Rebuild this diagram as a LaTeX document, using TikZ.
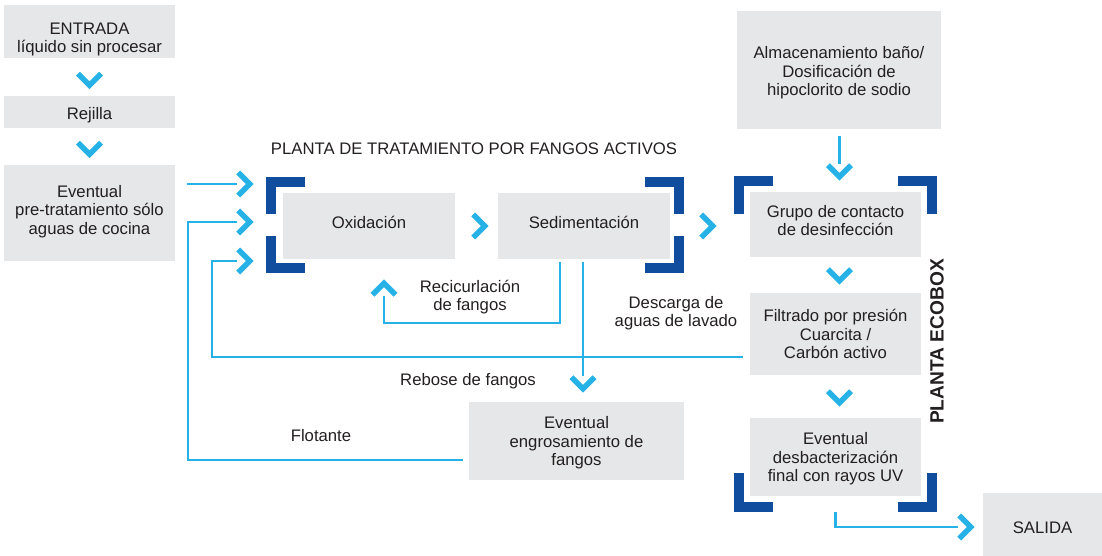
\documentclass[tikz,border=0pt]{standalone}
\usepackage{fontspec}
\setmainfont{Liberation Sans}
\definecolor{cyanline}{RGB}{38,178,231}
\definecolor{darkbar}{RGB}{16,77,158}
\definecolor{boxgray}{RGB}{230,231,232}
\definecolor{ink}{RGB}{35,31,32}
\tikzset{
  box/.style={fill=boxgray,inner sep=0pt},
  lbl/.style={text=ink,align=center,inner sep=0pt,font=\fontsize{16.7}{18.5}\selectfont},
  flow/.style={draw=cyanline,line width=2.8pt},
  chev/.style={draw=cyanline,line width=5.5pt},
  bar/.style={draw=darkbar,line width=10pt},
  chevd/.pic={\draw[chev] (-11.5,-6.8) -- (0,4.7) -- (11.5,-6.8);},
  chevr/.pic={\draw[chev] (-6.8,-11.5) -- (4.7,0) -- (-6.8,11.5);},
  chevu/.pic={\draw[chev] (-11.5,6.8) -- (0,-4.7) -- (11.5,6.8);}
}
\begin{document}
\begin{tikzpicture}[x=1pt,y=-1pt]
\useasboundingbox (0,0) rectangle (1102,556);
\node[box,minimum width=171pt,minimum height=53pt,label={[lbl,yshift=-8pt]center:ENTRADA\\líquido sin procesar}] (entrada) at (89.5,31.5) {};
\node[box,minimum width=171pt,minimum height=32pt,label={[lbl,yshift=-3pt]center:Rejilla}] (rejilla) at (89.5,112) {};
\node[box,minimum width=171pt,minimum height=96pt,label={[lbl,yshift=1.5pt]center:Eventual\\pre-tratamiento sólo\\aguas de cocina}] (pretrat) at (89.5,213) {};
\node[box,minimum width=172pt,minimum height=66pt,label={[lbl,yshift=4pt]center:Oxidación}] (oxid) at (369,226) {};
\node[box,minimum width=172pt,minimum height=66pt,label={[lbl,yshift=4pt]center:Sedimentación}] (sedim) at (584,226) {};
\node[box,minimum width=215pt,minimum height=78pt,label={[lbl,yshift=-2pt]center:Eventual\\engrosamiento de\\fangos}] (engros) at (576.5,441) {};
\node[box,minimum width=204pt,minimum height=118pt,label={[lbl,yshift=-3pt]center:Almacenamiento baño/\\Dosificación de\\hipoclorito de sodio}] (almac) at (839,70) {};
\node[box,minimum width=171pt,minimum height=65pt,label={[lbl,yshift=4pt]center:Grupo de contacto\\de desinfección}] (contacto) at (835.5,224.5) {};
\node[box,minimum width=171pt,minimum height=82pt,label={[lbl]center:Filtrado por presión\\Cuarcita /\\Carbón activo}] (filtrado) at (835.5,334) {};
\node[box,minimum width=171pt,minimum height=78pt,label={[lbl,yshift=-2pt]center:Eventual\\desbacterización\\final con rayos UV}] (uv) at (835.5,457) {};
\node[box,minimum width=119pt,minimum height=63pt,label={[lbl,yshift=-3pt]center:SALIDA}] (salida) at (1042.5,524.5) {};
\node[lbl] (titulo) at (474,149) {PLANTA DE TRATAMIENTO POR FANGOS ACTIVOS};
\node[lbl] (recirc) at (470,297) {Recicurlación\\de fangos};
\node[lbl] (descarga) at (676,313) {Descarga de\\aguas de lavado};
\node[lbl] (rebose) at (468,381) {Rebose de fangos};
\node[lbl] (flotante) at (321,436) {Flotante};
\node[lbl,font=\fontsize{19.2}{21}\selectfont\bfseries,rotate=90] (ecobox) at (937,341.5) {PLANTA ECOBOX};
\coordinate (inA) at (245,184); \coordinate (inB) at (245,222); \coordinate (inC) at (245,261);
\coordinate (chAlm) at (839.5,172); \coordinate (chRec) at (384,288); \coordinate (chReb) at (583,384); \coordinate (chSal) at (966,527);
\path (89.5,80.5) pic{chevd} (89.5,149.5) pic{chevd};
\foreach \c in {inA,inB,inC} \path (\c) pic{chevr};
\path (480,226) pic{chevr} (708,226) pic{chevr};
\path (chAlm) pic{chevd} (839.5,276) pic{chevd} (839.5,398) pic{chevd};
\path (chRec) pic{chevu} (chReb) pic{chevd} (chSal) pic{chevr};
\draw[flow] ([xshift=12pt]pretrat.east |- inA) -- ([xshift=-8pt]inA);
\draw[flow] ([shift={(-6,19)}]engros.west) -| (188,222) -- ([xshift=-8pt]inB);
\draw[flow] ([shift={(-7,23)}]filtrado.west) -| (212,261) -- ([xshift=-8pt]inC);
\draw[flow] ([shift={(-24,3)}]sedim.south) |- (384,323) -- ([yshift=-8pt]chRec);
\draw[flow] ([shift={(-1,3)}]sedim.south) -- ([yshift=8pt]chReb);
\draw[flow] ([yshift=-7pt]almac.south -| chAlm) -- ([yshift=8pt]chAlm);
\draw[flow] ([yshift=-16pt]uv.south) |- ([xshift=-8pt]chSal);
\draw[bar] (305,182) -| (271,214); \draw[bar] (305,268) -| (271,236);
\draw[bar] (645,182) -| (679,214); \draw[bar] (645,268) -| (679,236);
\draw[bar] (773,181) -| (739,214); \draw[bar] (898,181) -| (932,214);
\draw[bar] (773,507) -| (739,473); \draw[bar] (898,507) -| (932,473);
\end{tikzpicture}
\end{document}
